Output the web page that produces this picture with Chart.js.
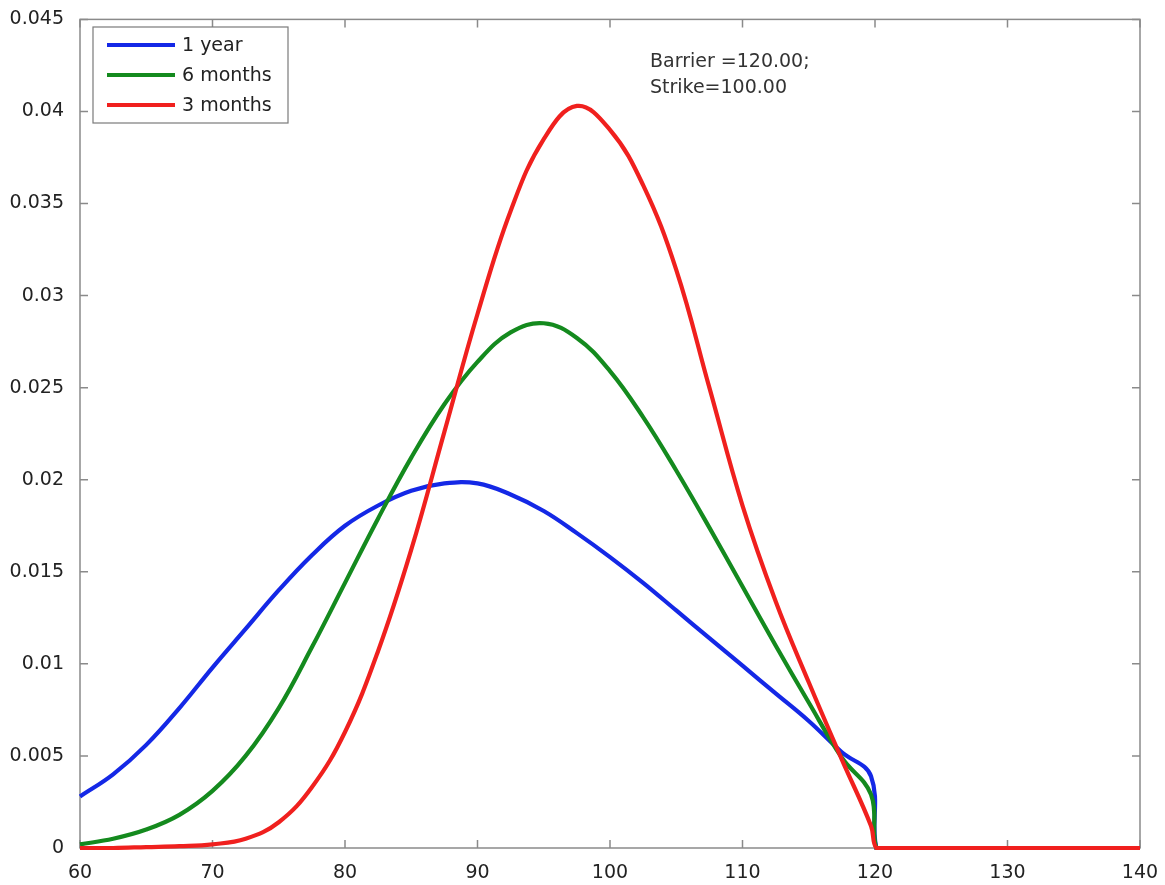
<!DOCTYPE html>
<html>
<head>
<meta charset="utf-8">
<title>Barrier density</title>
<script src="https://cdn.jsdelivr.net/npm/chart.js@4/dist/chart.umd.min.js"></script>
<style>
  html, body { margin: 0; padding: 0; background: #fff; }
  #wrap { width: 1165px; height: 885px; }
</style>
</head>
<body>
<div id="wrap"><canvas id="density-chart" width="1165" height="885"></canvas></div>
<script>
// Spot values (x axis) shared by every curve
const spotValues = [60, 62.5, 65, 67.5, 70, 72.5, 75, 77.5, 80, 82.5, 85, 87.5, 90, 92.5, 95, 97.5, 100, 102.5, 105, 107.5, 110, 112.5, 115, 117.5, 119.7, 120.1, 121, 140];

// Density, one list per maturity
const oneYear = [0.0028, 0.0040, 0.0056, 0.0076, 0.0098, 0.0119, 0.0140, 0.0159, 0.0175, 0.0186, 0.0194, 0.0198, 0.0198, 0.0192, 0.0183, 0.0171, 0.0158, 0.0144, 0.0129, 0.0114, 0.0099, 0.0084, 0.0069, 0.0052, 0.0039, 0, 0, 0];
const sixMonths = [0.0002, 0.0005, 0.0010, 0.0018, 0.0031, 0.0050, 0.0076, 0.0109, 0.0144, 0.0179, 0.0212, 0.0241, 0.0264, 0.0280, 0.0285, 0.0277, 0.0259, 0.0234, 0.0205, 0.0174, 0.0142, 0.0110, 0.0079, 0.0049, 0.0029, 0, 0, 0];
const threeMonths = [0, 0, 0.00005, 0.0001, 0.0002, 0.0005, 0.0014, 0.0033, 0.0063, 0.0107, 0.0162, 0.0226, 0.0290, 0.0346, 0.0385, 0.0403, 0.0390, 0.0360, 0.0314, 0.0250, 0.0186, 0.0134, 0.0090, 0.0048, 0.0012, 0, 0, 0];

const seriesNames = ["1 year", "6 months", "3 months"];
const seriesColors = ["#1428e6", "#148a1e", "#f0201e"];

const xTickLabels = ["60", "70", "80", "90", "100", "110", "120", "130", "140"];
const yTickLabels = ["0", "0.005", "0.01", "0.015", "0.02", "0.025", "0.03", "0.035", "0.04", "0.045"];

const noteLines = ["Barrier =120.00;", "Strike=100.00"];

const FONT = "DejaVu Sans";

function toPoints(values) {
  return spotValues.map((x, i) => ({ x: x, y: values[i] }));
}

// MATLAB-like box with inward ticks on all four sides
const boxAxes = {
  id: "boxAxes",
  beforeDatasetsDraw(chart) {
    const { ctx, chartArea: a, scales } = chart;
    const len = 8;
    ctx.save();
    ctx.strokeStyle = "#8a8a8a";
    ctx.lineWidth = 1.5;
    ctx.strokeRect(a.left, a.top, a.right - a.left, a.bottom - a.top);
    ctx.beginPath();
    scales.x.ticks.forEach(t => {
      const px = scales.x.getPixelForValue(t.value);
      ctx.moveTo(px, a.bottom); ctx.lineTo(px, a.bottom - len);
      ctx.moveTo(px, a.top); ctx.lineTo(px, a.top + len);
    });
    scales.y.ticks.forEach(t => {
      const py = scales.y.getPixelForValue(t.value);
      ctx.moveTo(a.left, py); ctx.lineTo(a.left + len, py);
      ctx.moveTo(a.right, py); ctx.lineTo(a.right - len, py);
    });
    ctx.stroke();
    ctx.restore();
  }
};

// Boxed legend in the upper left and the parameter note
const boxLegend = {
  id: "boxLegend",
  afterDatasetsDraw(chart) {
    const { ctx } = chart;
    ctx.save();
    ctx.fillStyle = "#fff";
    ctx.fillRect(93, 27, 195, 96);
    ctx.strokeStyle = "#7a7a7a";
    ctx.lineWidth = 1.2;
    ctx.strokeRect(93, 27, 195, 96);
    ctx.font = "19px '" + FONT + "'";
    ctx.textBaseline = "middle";
    chart.data.datasets.forEach((ds, i) => {
      const y = 45 + i * 30;
      ctx.strokeStyle = ds.borderColor;
      ctx.lineWidth = 4;
      ctx.beginPath();
      ctx.moveTo(107, y);
      ctx.lineTo(175, y);
      ctx.stroke();
      ctx.fillStyle = "#222";
      ctx.fillText(ds.label, 182, y + 1);
    });
    ctx.fillStyle = "#333";
    noteLines.forEach((line, i) => ctx.fillText(line, 650, 62 + i * 26));
    ctx.restore();
  }
};

const ctx = document.getElementById("density-chart").getContext("2d");

new Chart(ctx, {
  type: "line",
  data: {
    datasets: [oneYear, sixMonths, threeMonths].map((values, i) => ({
      label: seriesNames[i],
      data: toPoints(values),
      borderColor: seriesColors[i],
      backgroundColor: seriesColors[i],
      borderWidth: 4.2,
      pointRadius: 0,
      tension: 0.4,
      fill: false,
      clip: false,
      order: 3 - i
    }))
  },
  options: {
    responsive: false,
    animation: false,
    devicePixelRatio: 1,
    layout: { padding: { top: 15, right: 25, left: 0, bottom: 0 } },
    plugins: {
      legend: { display: false },
      tooltip: { enabled: false }
    },
    scales: {
      x: {
        type: "linear",
        min: 60,
        max: 140,
        grid: { display: false },
        border: { display: false },
        ticks: {
          stepSize: 10,
          padding: 6,
          color: "#222",
          font: { family: FONT, size: 19 },
          maxRotation: 0,
          callback: (v, i) => xTickLabels[i]
        },
        afterFit: scale => { scale.height = 37; }
      },
      y: {
        type: "linear",
        min: 0,
        max: 0.045,
        grid: { display: false },
        border: { display: false },
        ticks: {
          stepSize: 0.005,
          padding: 8,
          color: "#222",
          font: { family: FONT, size: 19 },
          callback: (v, i) => yTickLabels[i]
        },
        afterFit: scale => { scale.width = 80; }
      }
    }
  },
  plugins: [boxAxes, boxLegend]
});
</script>
</body>
</html>
